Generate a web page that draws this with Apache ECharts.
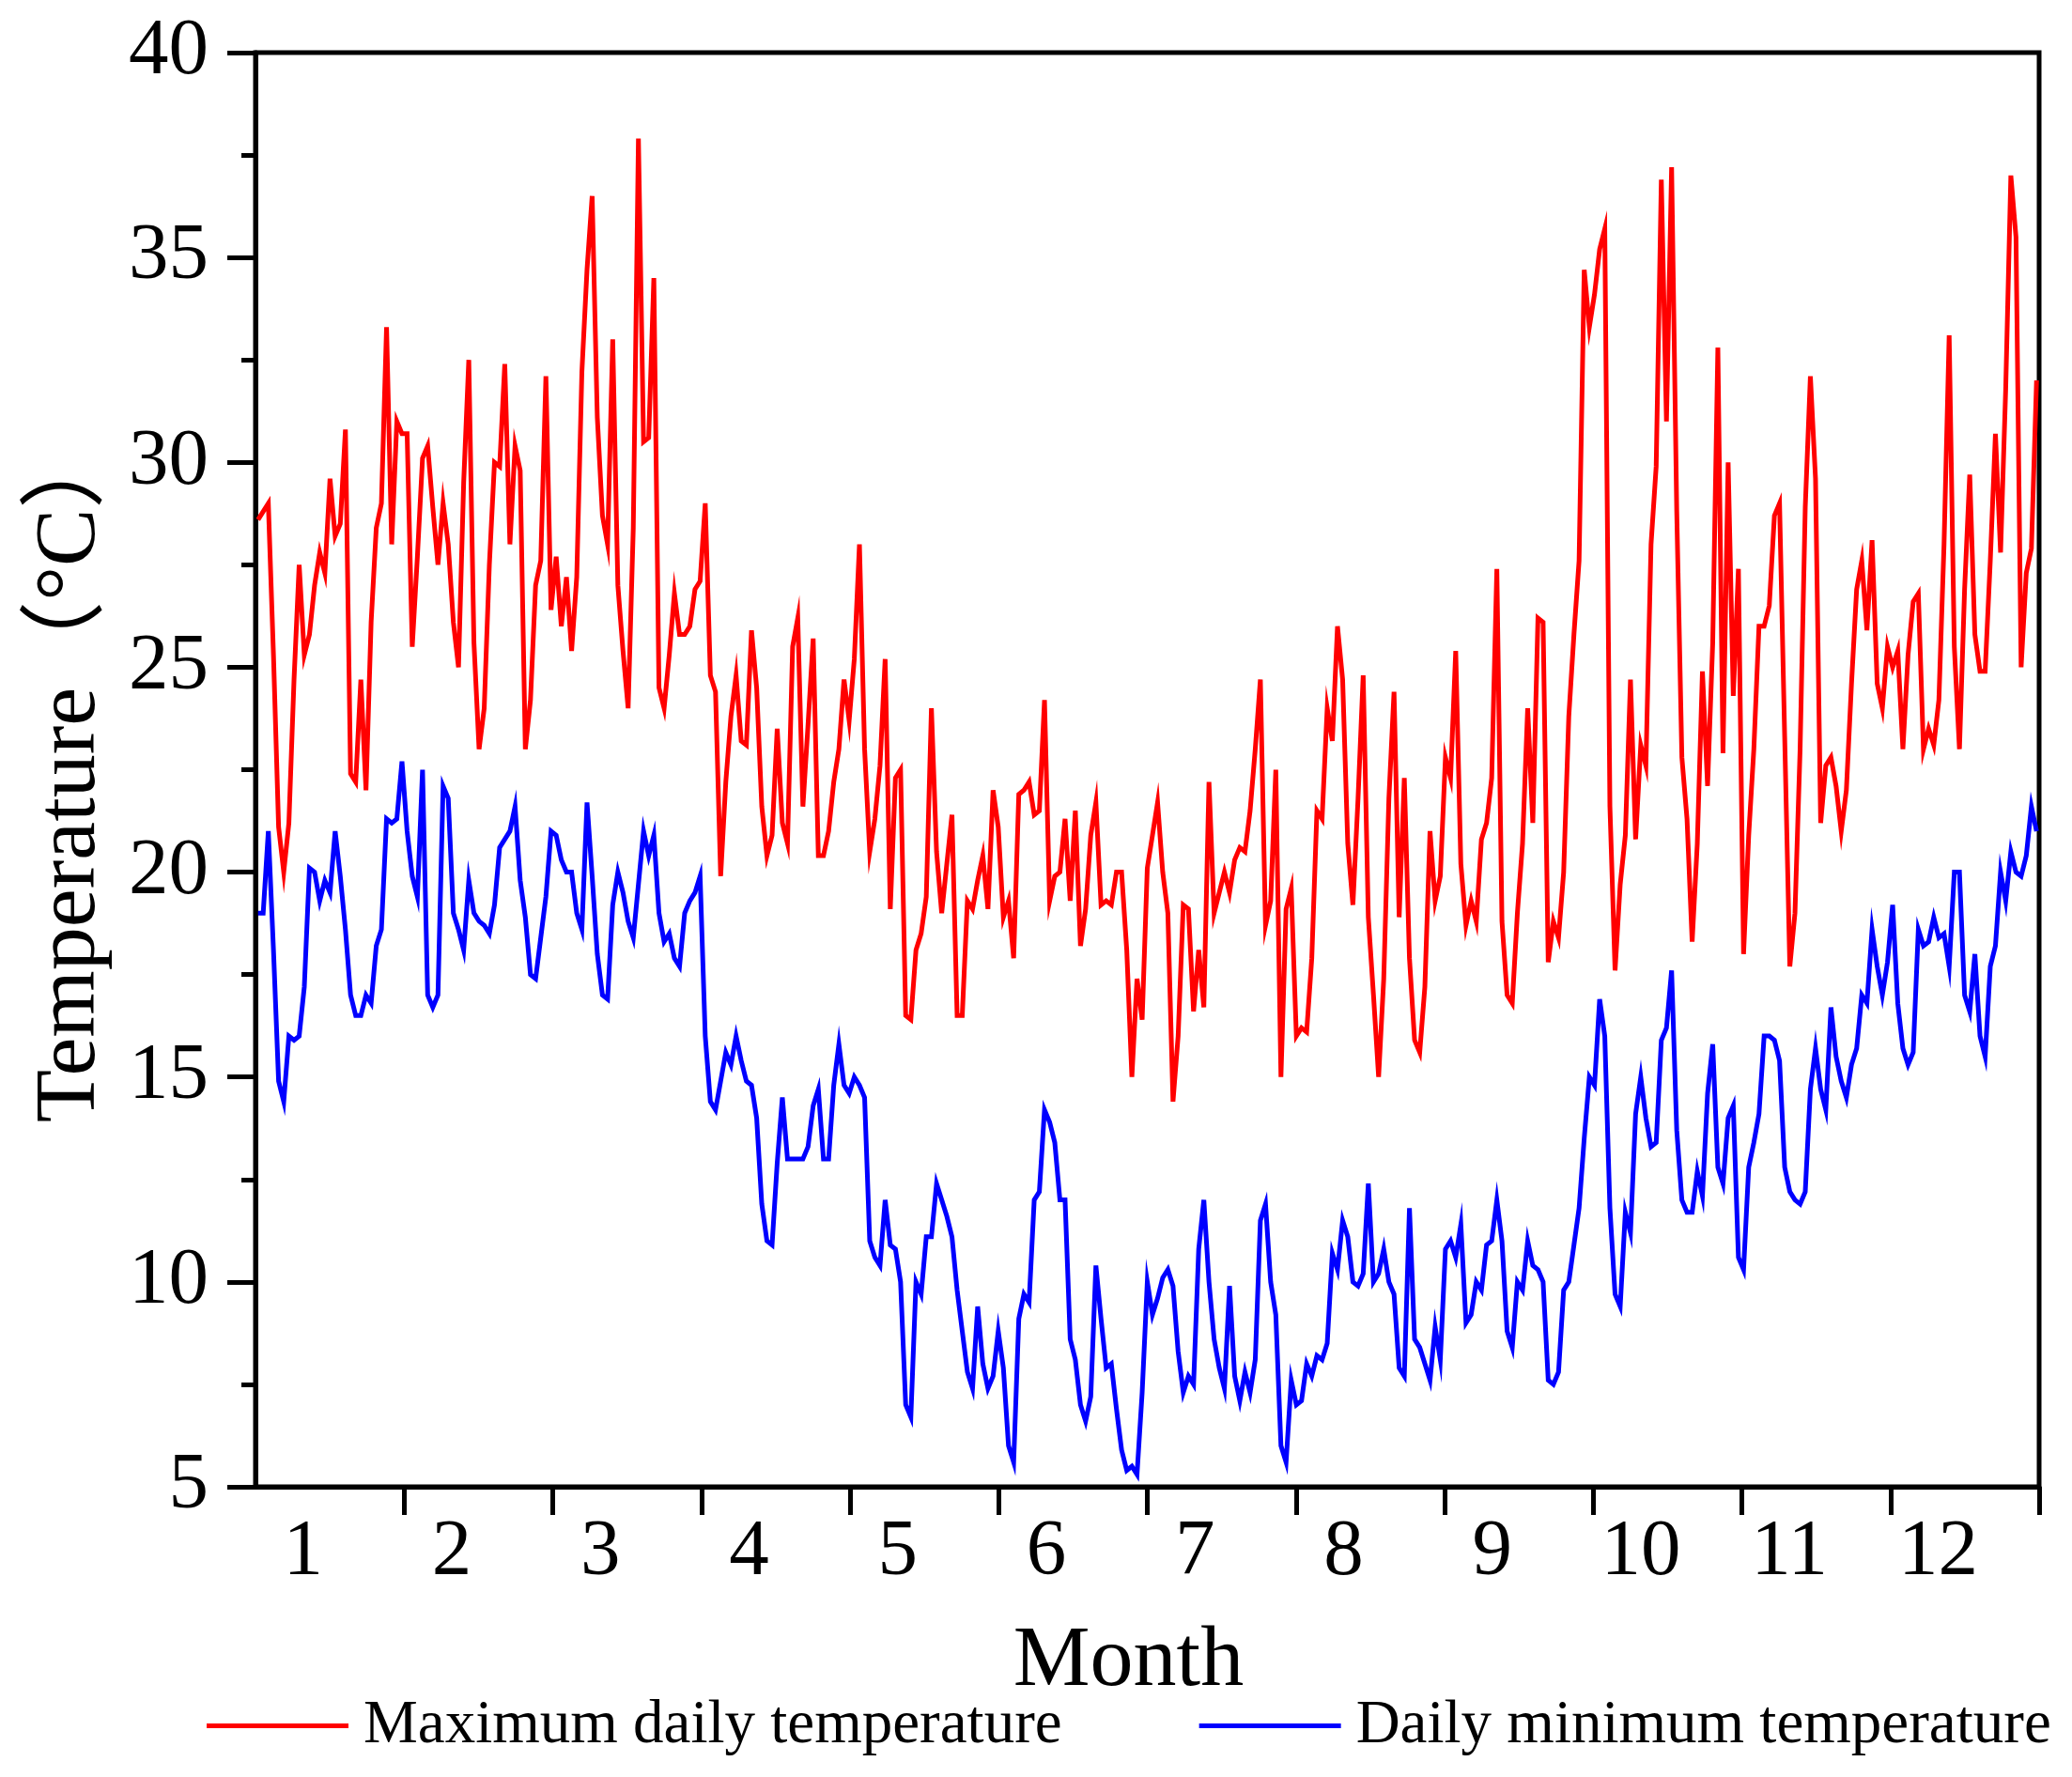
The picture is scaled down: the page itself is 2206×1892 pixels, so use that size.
<!DOCTYPE html>
<html>
<head>
<meta charset="utf-8">
<script src="https://cdn.jsdelivr.net/npm/echarts@6/dist/echarts.min.js"></script>
<style>
html,body{margin:0;padding:0;background:#ffffff;}
#chart{width:2206px;height:1892px;}
</style>
</head>
<body>
<div id="chart"></div>
<script>
// Month labels (x axis)
const monthLabels = ['1','2','3','4','5','6','7','8','9','10','11','12'];
// Y axis ticks
const yTickValues = [5, 10, 15, 20, 25, 30, 35, 40];
// Legend / series names
const seriesNames = ['Maximum daily temperature', 'Daily minimum temperature'];

// Daily maximum temperature (°C), Jan -> Dec
const maxTemp = [
  28.6, 28.8, 29.0, 25.3, 21.1, 20.0, 21.2, 24.7, 27.5, 25.3,
  25.8, 27.0, 27.8, 27.3, 29.6, 28.2, 28.5, 30.8, 22.4, 22.2,
  24.7, 22.0, 26.1, 28.4, 29.0, 33.3, 28.0, 31.0, 30.7, 30.7,
  25.5, 27.7, 30.1, 30.4, 28.9, 27.5, 29.0, 28.0, 26.1, 25.0,
  29.5, 32.5, 25.6, 23.0, 24.0, 27.5, 30.0, 29.9, 32.4, 28.0,
  30.4, 29.8, 23.0, 24.2, 27.0, 27.6, 32.1, 26.4, 27.7, 26.0,
  27.2, 25.4, 27.2, 32.2, 34.7, 36.5, 31.1, 28.7, 28.0, 33.0,
  27.0, 25.4, 24.0, 28.4, 37.9, 30.5, 30.6, 34.5, 24.5, 24.0,
  25.3, 26.8, 25.8, 25.8, 26.0, 26.9, 27.1, 29.0, 24.8, 24.4,
  19.9, 22.2, 23.8, 24.8, 23.2, 23.1, 25.9, 24.5, 21.6, 20.4,
  20.9, 23.5, 21.2, 20.7, 25.5, 26.2, 21.6, 23.6, 25.7, 20.4,
  20.4, 21.0, 22.2, 23.0, 24.7, 23.7,
  25.2, 28.0, 23.0, 20.5, 21.3, 22.6, 25.2, 19.1, 22.3, 22.5,
  16.5, 16.4, 18.1, 18.5, 19.4, 24.0, 20.5, 19.0, 20.2, 21.4,
  16.5, 16.5, 19.3, 19.1, 19.8, 20.4, 19.1, 22.0, 21.1, 18.9,
  19.3, 17.9, 21.9, 22.0, 22.2, 21.4, 21.5, 24.2, 19.3, 19.9,
  20.0, 21.3, 19.3, 21.5, 18.2, 19.1, 20.9, 21.7, 19.2, 19.3,
  19.2, 20.0, 20.0, 18.1, 15.0, 17.4, 16.4, 20.1, 20.9, 21.7,
  20.0, 19.0, 14.4, 16.0, 19.2, 19.1, 16.6, 18.1, 16.7, 22.2,
  19.0, 19.5, 20.0, 19.5, 20.3, 20.6, 20.5, 21.5, 23.0, 24.7,
  18.7, 19.3, 22.5, 15.0, 19.1, 19.6, 16.0, 16.2, 16.1, 17.9,
  21.5, 21.3, 24.0, 23.2, 26.0, 24.7, 20.7, 19.2, 21.8, 24.8,
  18.9, 17.0, 15.0, 17.4, 21.8, 24.4, 18.9, 22.3, 17.9, 15.9,
  15.6, 17.2, 21.0, 19.3, 19.9, 22.8, 22.3,
  25.4, 20.2, 18.7, 19.3, 18.8, 20.8, 21.2, 22.3, 27.4, 18.8,
  17.0, 16.8, 19.0, 20.7, 24.0, 21.2, 26.2, 26.1, 17.8, 18.8,
  18.4, 20.0, 23.8, 25.8, 27.6, 34.7, 33.3, 34.1, 35.2, 35.7,
  21.6, 17.6, 19.7, 20.9, 24.7, 20.8, 23.1, 22.6, 28.0, 29.9,
  36.9, 31.0, 37.2, 28.8, 22.8, 21.3, 18.3, 20.7, 24.9, 22.1,
  25.6, 32.8, 22.9, 30.0, 24.3, 27.4, 18.0, 20.9, 23.0, 26.0,
  26.0, 26.5, 28.7, 29.0, 23.3, 17.7, 19.0, 23.0, 28.9, 32.1,
  29.6, 21.2, 22.6, 22.8, 22.1, 21.0, 22.0, 24.6, 26.9, 27.6,
  25.9, 28.1, 24.6, 24.0, 25.5, 25.0, 25.4, 23.0, 25.3, 26.6,
  26.8, 23.0, 23.5, 23.1, 24.2, 28.0, 33.1, 25.5, 23.0, 26.9,
  29.7, 25.8, 24.9, 24.9, 27.6, 30.7, 27.8, 31.8, 37.0, 35.5,
  25.0, 27.3, 27.9, 32.0
];

// Daily minimum temperature (°C), Jan -> Dec
const minTemp = [
  19.0, 19.0, 21.0, 18.1, 14.9, 14.4, 16.0, 15.9, 16.0, 17.2,
  20.1, 20.0, 19.3, 19.8, 19.5, 21.0, 19.9, 18.6, 17.0, 16.5,
  16.5, 17.0, 16.8, 18.2, 18.6, 21.3, 21.2, 21.3, 22.7, 21.0,
  19.9, 19.4, 22.5, 17.0, 16.7, 17.0, 22.1, 21.8, 19.0, 18.6,
  18.1, 19.8, 19.0, 18.8, 18.7, 18.5, 19.2, 20.6, 20.8, 21.0,
  21.6, 19.8, 18.9, 17.5, 17.4, 18.4, 19.4, 21.0, 20.9, 20.3,
  20.0, 20.0, 19.0, 18.6, 21.7, 19.9, 18.0, 17.0, 16.9, 19.2,
  20.0, 19.5, 18.8, 18.4, 19.7, 21.0, 20.4, 20.9, 19.0, 18.3,
  18.5, 17.9, 17.7, 19.0, 19.3, 19.5, 19.9, 16.0, 14.4, 14.2,
  14.9, 15.6, 15.3, 16.0, 15.4, 14.9, 14.8, 14.0, 11.9, 11.0,
  10.9, 12.9, 14.5, 13.0, 13.0, 13.0, 13.0, 13.3, 14.3, 14.7,
  13.0, 13.0, 14.8, 15.8, 14.8, 14.6,
  15.0, 14.8, 14.5, 11.0, 10.6, 10.4, 12.0, 10.9, 10.8, 10.0,
  7.0, 6.7, 10.0, 9.7, 11.1, 11.1, 12.4, 12.0, 11.6, 11.1,
  9.8, 8.8, 7.8, 7.4, 9.4, 8.0, 7.4, 7.7, 8.8, 7.9,
  6.0, 5.6, 9.1, 9.7, 9.5, 12.0, 12.2, 14.2, 13.9, 13.4,
  12.0, 12.0, 8.6, 8.1, 7.0, 6.6, 7.2, 10.4, 9.1, 7.9,
  8.0, 6.9, 5.9, 5.4, 5.5, 5.3, 7.3, 10.0, 9.2, 9.6,
  10.1, 10.3, 9.9, 8.3, 7.3, 7.7, 7.5, 10.8, 12.0, 10.0,
  8.6, 7.9, 7.4, 9.9, 7.7, 7.1, 7.8, 7.3, 8.1, 11.5,
  11.9, 10.0, 9.2, 6.0, 5.6, 7.6, 7.0, 7.1, 8.0, 7.7,
  8.2, 8.1, 8.5, 10.7, 10.3, 11.5, 11.1, 10.0, 9.9, 10.2,
  12.4, 10.0, 10.2, 10.8, 10.0, 9.7, 7.9, 7.7, 11.8, 8.6,
  8.4, 8.0, 7.6, 8.9, 8.1, 10.8, 11.0,
  10.6, 11.4, 9.0, 9.2, 10.0, 9.8, 10.9, 11.0, 12.0, 11.0,
  8.8, 8.4, 10.0, 9.8, 11.0, 10.4, 10.3, 10.0, 7.6, 7.5,
  7.8, 9.8, 10.0, 10.9, 11.8, 13.5, 15.0, 14.8, 16.9, 16.0,
  11.8, 9.7, 9.4, 11.7, 11.2, 14.1, 15.0, 14.0, 13.3, 13.4,
  15.9, 16.2, 17.6, 13.7, 12.0, 11.7, 11.7, 12.7, 12.1, 14.6,
  15.8, 12.8, 12.4, 14.0, 14.3, 10.6, 10.3, 12.8, 13.4, 14.1,
  16.0, 16.0, 15.9, 15.4, 12.8, 12.2, 12.0, 11.9, 12.2, 14.7,
  15.7, 14.7, 14.2, 16.7, 15.5, 14.9, 14.5, 15.3, 15.7, 17.0,
  16.8, 18.6, 17.7, 17.0, 17.8, 19.2, 16.8, 15.7, 15.3, 15.6,
  18.6, 18.2, 18.3, 18.9, 18.4, 18.5, 17.7, 20.0, 20.0, 17.0,
  16.6, 18.0, 16.0, 15.5, 17.7, 18.2, 20.0, 19.3, 20.5, 20.0,
  19.9, 20.4, 21.6, 21.0
];

const FONT = '"Liberation Serif", "Times New Roman", "Noto Sans CJK SC", serif';
const nMonths = monthLabels.length;
// place the daily values evenly across the 12 months of the axis
function toSeries(arr) {
  return arr.map((v, k) => [(k + 0.5) * nMonths / arr.length, v]);
}

const chart = echarts.init(document.getElementById('chart'), null, { renderer: 'canvas' });
chart.setOption({
  animation: false,
  backgroundColor: '#ffffff',
  grid: {
    left: 272, right: 35, top: 56, bottom: 309,
    show: true, borderColor: '#000', borderWidth: 5,
    containLabel: false, outerBoundsMode: 'none'
  },
  legend: {
    data: seriesNames,
    left: 215, top: 1800,
    icon: 'rect',
    itemWidth: 151, itemHeight: 5,
    itemGap: 146,
    textStyle: { fontFamily: FONT, fontSize: 65, color: '#000', padding: [0, 0, 0, 11] }
  },
  xAxis: {
    type: 'value',
    min: 0, max: nMonths,
    interval: 1,
    axisLine: { show: true, onZero: false, lineStyle: { color: '#000', width: 5 } },
    axisTick: {
      show: true, inside: false, length: 30,
      lineStyle: { color: '#000', width: 5 },
      customValues: monthLabels.map((_, i) => i + 1)
    },
    axisLabel: {
      show: true,
      customValues: monthLabels.map((_, i) => i + 0.32),
      formatter: (v) => monthLabels[Math.round(v - 0.32)],
      fontFamily: FONT, fontSize: 85, color: '#000', margin: 28
    },
    splitLine: { show: false },
    name: 'Month',
    nameLocation: 'middle',
    nameGap: 141,
    nameTextStyle: { fontFamily: FONT, fontSize: 92, color: '#000', padding: [0, 40, 0, 0] }
  },
  yAxis: {
    type: 'value',
    min: yTickValues[0], max: yTickValues[yTickValues.length - 1],
    interval: yTickValues[1] - yTickValues[0],
    axisLine: { show: true, onZero: false, lineStyle: { color: '#000', width: 5 } },
    axisTick: { show: true, inside: false, length: 30, lineStyle: { color: '#000', width: 5 } },
    minorTick: { show: true, splitNumber: 2, length: 15, lineStyle: { color: '#000', width: 5 } },
    axisLabel: { fontFamily: FONT, fontSize: 85, color: '#000', margin: 50 },
    splitLine: { show: false },
    minorSplitLine: { show: false },
    name: 'Temperature（°C）',
    nameLocation: 'middle',
    nameGap: 150,
    nameTextStyle: { fontFamily: FONT, fontSize: 92, color: '#000', padding: [0, 6, 0, 0] }
  },
  series: [
    {
      name: seriesNames[0], type: 'line',
      data: toSeries(maxTemp),
      showSymbol: false, symbol: 'none',
      lineStyle: { color: '#ff0000', width: 5, join: 'miter' },
      itemStyle: { color: '#ff0000' }
    },
    {
      name: seriesNames[1], type: 'line',
      data: toSeries(minTemp),
      showSymbol: false, symbol: 'none',
      lineStyle: { color: '#0000ff', width: 5, join: 'miter' },
      itemStyle: { color: '#0000ff' }
    }
  ]
});
</script>
</body>
</html>
